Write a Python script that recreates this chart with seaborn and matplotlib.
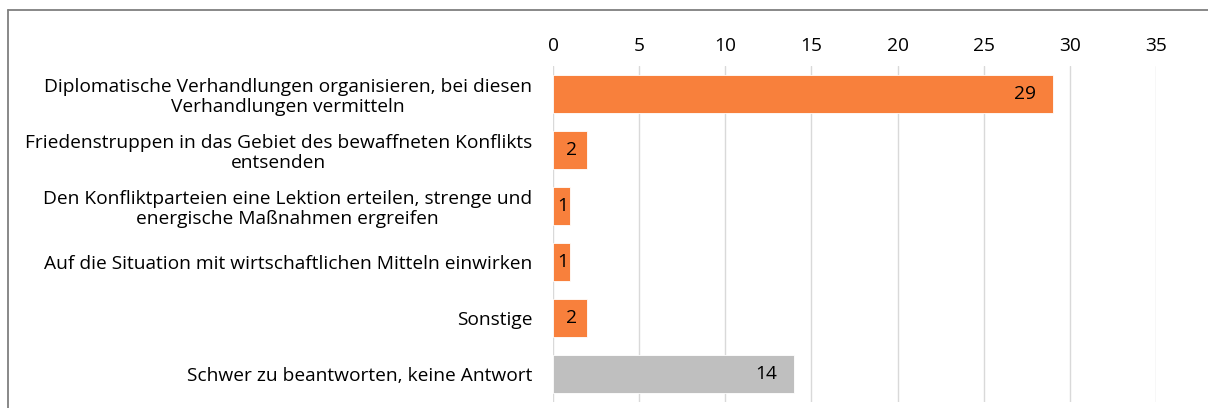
import pandas as pd
import numpy as np
import matplotlib.pyplot as plt
import seaborn as sns
from matplotlib.lines import Line2D

categories = [
    'Diplomatische Verhandlungen organisieren, bei diesen\nVerhandlungen vermitteln',
    'Friedenstruppen in das Gebiet des bewaffneten Konflikts\nentsenden',
    'Den Konfliktparteien eine Lektion erteilen, strenge und\nenergische Maßnahmen ergreifen',
    'Auf die Situation mit wirtschaftlichen Mitteln einwirken',
    'Sonstige',
    'Schwer zu beantworten, keine Antwort',
]
values = [29, 2, 1, 1, 2, 14]
bar_colors = ['#F8803C', '#F8803C', '#F8803C', '#F8803C', '#F8803C', '#BFBFBF']
x_ticks = [0, 5, 10, 15, 20, 25, 30, 35]

sns.set_style('white')
plt.rcParams['font.family'] = ['Open Sans', 'DejaVu Sans']
fs = 13.8

df = pd.DataFrame({'cat': categories, 'val': values})

fig = plt.figure(figsize=(12.08, 4.08), dpi=100)
ax = fig.add_axes([0.4578, 0.0147, 0.957 - 0.4578, 0.838 - 0.0147])

sns.barplot(data=df, x='val', y='cat', hue='cat', palette=bar_colors,
            saturation=1, legend=False, orient='h', width=0.68, ax=ax,
            edgecolor='white', linewidth=0.6, zorder=3)

ax.set_xlim(0, 35)
ax.set_xticks(x_ticks)
ax.xaxis.tick_top()
ax.tick_params(axis='x', length=0, pad=8, labelsize=fs, colors='#000000')
ax.tick_params(axis='y', length=0, pad=15, labelsize=fs, colors='#000000')
for lbl in ax.get_yticklabels():
    lbl.set_multialignment('center')
    lbl.set_linespacing(1.12)
ax.set_xlabel('')
ax.set_ylabel('')
ax.grid(axis='x', color='#D9D9D9', linewidth=1, zorder=0)
ax.grid(axis='y', visible=False)
for s in ax.spines.values():
    s.set_visible(False)

# value labels: inside end for long bars, centred for short ones
for i, v in enumerate(values):
    if v >= 5:
        ax.annotate(str(v), xy=(v, i), xytext=(-12, 0), textcoords='offset points',
                    ha='right', va='center', fontsize=fs, color='#000000', zorder=4)
    else:
        ax.annotate(str(v), xy=(v / 2, i), xytext=(1, 0), textcoords='offset points',
                    ha='center', va='center', fontsize=fs, color='#000000', zorder=4)

# outer frame (top and left only visible)
fig.add_artist(Line2D([8 / 1208, 1], [1 - 10 / 408, 1 - 10 / 408],
                      transform=fig.transFigure, color='#7F7F7F', linewidth=1.3))
fig.add_artist(Line2D([8 / 1208, 8 / 1208], [0, 1 - 10 / 408],
                      transform=fig.transFigure, color='#7F7F7F', linewidth=1.3))

fig.savefig('out.png', dpi=100)
